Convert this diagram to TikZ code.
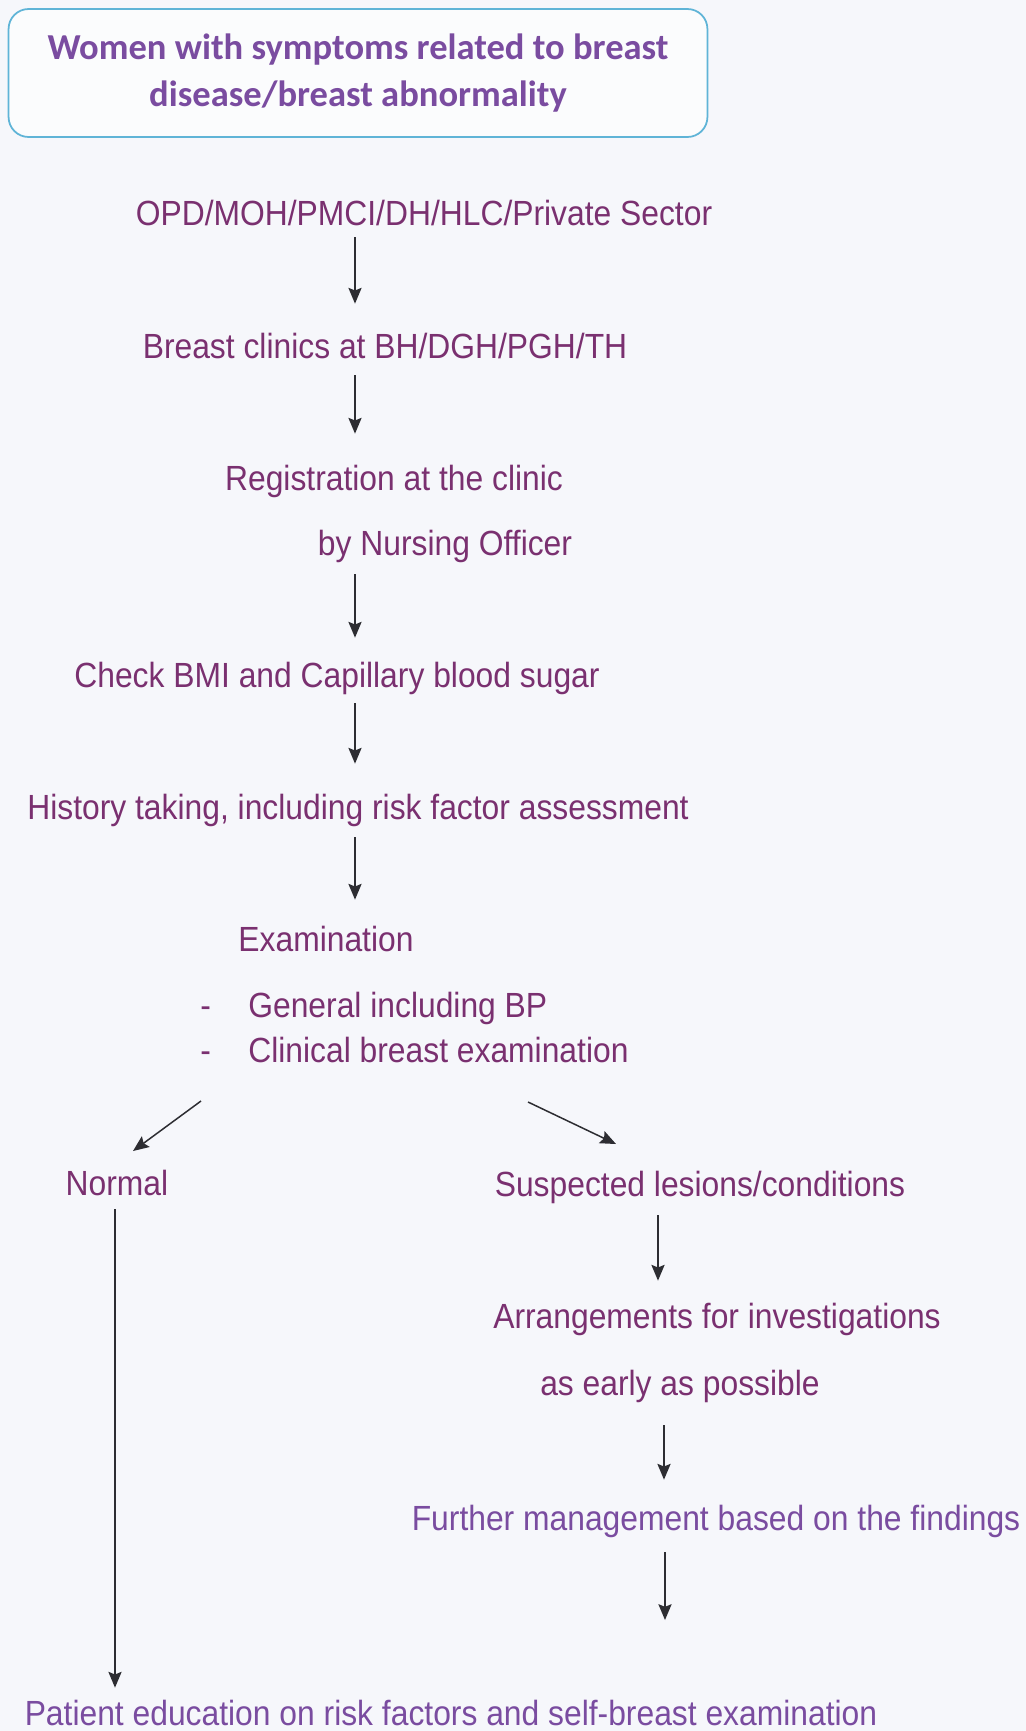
\documentclass[tikz,border=0pt]{standalone}
\usepackage{fontspec}
\setmainfont[FakeStretch=0.91]{Liberation Sans}
\newfontfamily\titlefont{Carlito}
\usetikzlibrary{arrows.meta,calc}
\definecolor{pagebg}{RGB}{246,247,251}
\definecolor{plum}{RGB}{122,48,112}
\definecolor{lilac}{RGB}{122,76,160}
\definecolor{boxline}{RGB}{95,180,215}
\definecolor{arrowgray}{RGB}{45,45,50}
\newcommand{\bodyfont}{\fontsize{19.9}{24}\selectfont}
\newcommand{\headfont}{\titlefont\bfseries\fontsize{20.8}{26.7}\selectfont}
\tikzset{
  steptext/.style={inner sep=0pt, anchor=base, text=plum, font=\bodyfont,
    text height=0.52cm, text depth=0.155cm},
  bullettext/.style={steptext, anchor=base west},
  outtext/.style={steptext, text=lilac},
  flowarrow/.style={->, draw=arrowgray, line width=0.85pt},
}
\begin{document}
\begin{tikzpicture}[x=0.02cm, y=-0.02cm, >={Stealth[length=9pt,width=7.5pt,inset=1.5pt]}]
	\path[use as bounding box, fill=pagebg] (0,0) rectangle (1026,1731);

	% title box
	\node[draw=boxline, line width=1pt, rounded corners=0.4cm, fill=white!60!pagebg,
		minimum width=13.98cm, minimum height=2.56cm, align=center,
		text=lilac, font=\headfont] (women) at (358,73)
		{Women with symptoms related to breast\\disease/breast abnormality};

	% main column
	\node[steptext] (opd) at (424,225) {OPD/MOH/PMCI/DH/HLC/Private Sector};
	\node[steptext] (clinics) at (385,358) {Breast clinics at BH/DGH/PGH/TH};
	\node[steptext] (regist) at (394,490) {Registration at the clinic};
	\node[steptext] (nursing) at (445,555) {by Nursing Officer};
	\node[steptext] (bmi) at (337,687) {Check BMI and Capillary blood sugar};
	\node[steptext] (history) at (358,819) {History taking, including risk factor assessment};
	\node[steptext] (exam) at (326,951) {Examination};
	\node[bullettext] (general) at (200,1017) {\makebox[0.96cm][l]{-}General including BP};
	\node[bullettext] (clinical) at (200,1062) {\makebox[0.96cm][l]{-}Clinical breast examination};

	% two branches
	\node[steptext] (normal) at (117,1195) {Normal};
	\node[steptext] (suspect) at (700,1196) {Suspected lesions/conditions};
	\node[steptext] (arrange) at (717,1328) {Arrangements for investigations};
	\node[steptext] (early) at (680,1395) {as early as possible};
	\node[outtext] (further) at (716,1530) {Further management based on the findings};
	\node[outtext] (educate) at (451,1725) {Patient education on risk factors and self-breast examination};

	\coordinate (spine) at (355,0);
	\coordinate (forkL) at (201,1101);
	\coordinate (tipL) at (133,1151);
	\coordinate (forkR) at (528,1102);
	\coordinate (tipR) at (616,1144);
	\coordinate (loose) at (665,1620);

	\draw[flowarrow, shorten <=0.08cm, shorten >=0.56cm] (opd.south -| spine) -- (clinics.north -| spine);
	\draw[flowarrow, shorten <=0.18cm, shorten >=0.60cm] (clinics.south -| spine) -- (regist.north -| spine);
	\draw[flowarrow, shorten <=0.22cm, shorten >=0.46cm] (nursing.south -| spine) -- (bmi.north -| spine);
	\draw[flowarrow, shorten <=0.16cm, shorten >=0.58cm] (bmi.south -| spine) -- (history.north -| spine);
	\draw[flowarrow, shorten <=0.20cm, shorten >=0.50cm] (history.south -| spine) -- (exam.north -| spine);

	\draw[flowarrow] (forkL) -- (tipL);
	\draw[flowarrow] (forkR) -- (tipR);

	\draw[flowarrow, shorten <=0.12cm, shorten >=0.22cm] (normal.south -| 115,0) -- (educate.north -| 115,0);
	\draw[flowarrow, shorten <=0.22cm, shorten >=0.42cm] (suspect.south -| 658,0) -- (arrange.north -| 658,0);
	\draw[flowarrow, shorten <=0.44cm, shorten >=0.48cm] (early.south -| 664,0) -- (further.north -| 664,0);
	\draw[flowarrow, shorten <=0.28cm] (further.south -| loose) -- (loose);
\end{tikzpicture}
\end{document}
